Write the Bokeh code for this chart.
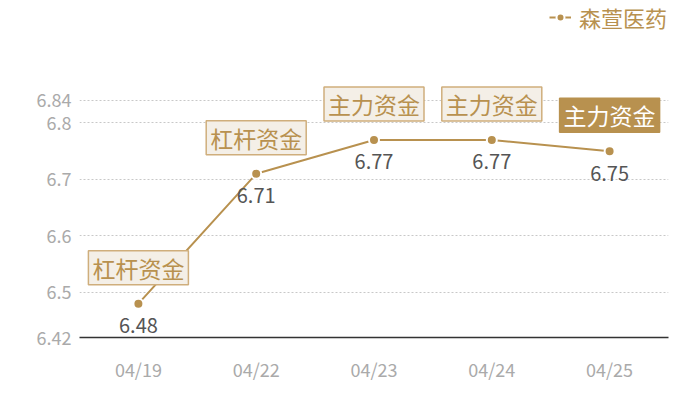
from bokeh.plotting import figure
from bokeh.models import ColumnDataSource, FixedTicker, Legend, LegendItem, Range1d
from bokeh.core.properties import value
from bokeh.embed import file_html
from bokeh.resources import INLINE

dates = ["04/19", "04/22", "04/23", "04/24", "04/25"]
prices = [6.48, 6.71, 6.77, 6.77, 6.75]
tags = ["杠杆资金", "杠杆资金", "主力资金", "主力资金", "主力资金"]
series_name = "森萱医药"
y_ticks = [6.42, 6.5, 6.6, 6.7, 6.8, 6.84]
y_tick_labels = ["6.42", "6.5", "6.6", "6.7", "6.8", "6.84"]

GOLD = "#b8914f"
FONT = "Noto Sans CJK SC"

xs = [i + 0.5 for i in range(len(dates))]
src = ColumnDataSource(dict(x=xs, y=prices, lab=[f"{v:.2f}" for v in prices], tag=tags))

# frame extended upward (invisible) so that tag boxes and legend are not clipped
p = figure(width=684, height=384, output_backend="svg", toolbar_location=None,
           x_range=Range1d(0, len(dates)), y_range=Range1d(y_ticks[0], 7.017),
           min_border_left=79, min_border_right=16, min_border_top=0, min_border_bottom=47)
p.outline_line_color = None
p.background_fill_color = "white"

line = p.line("x", "y", source=src, line_color=GOLD, line_width=2)
pts = p.scatter("x", "y", source=src, size=10, fill_color=GOLD, line_color="white", line_width=2)

# data labels
p.text("x", "y", text="lab", source=src, text_align="center", text_baseline="middle",
       y_offset=22, text_font=value(FONT), text_font_size="20px", text_color="#555555")

# tag boxes
n = len(dates)
src_a = ColumnDataSource(dict(x=xs[:n - 1], y=prices[:n - 1], tag=tags[:n - 1]))
src_b = ColumnDataSource(dict(x=xs[n - 1:], y=prices[n - 1:], tag=tags[n - 1:]))
p.text("x", "y", text="tag", source=src_a, text_align="center", text_baseline="middle",
       y_offset=-36, text_font=value(FONT), text_font_size="23px", text_color=GOLD,
       background_fill_color="#f4efe7", border_line_color="#cfae7c", border_line_width=1.5,
       padding=(4, 0))
p.text("x", "y", text="tag", source=src_b, text_align="center", text_baseline="middle",
       y_offset=-36, text_font=value(FONT), text_font_size="23px", text_color="white",
       background_fill_color=GOLD, border_line_color=GOLD, border_line_width=1.5,
       padding=(4, 0))

# axes
p.xaxis.ticker = FixedTicker(ticks=xs)
p.xaxis.major_label_overrides = {x: d for x, d in zip(xs, dates)}
p.xaxis.major_tick_line_color = None
p.xaxis.minor_tick_line_color = None
p.xaxis.axis_line_color = "#333333"
p.xaxis.axis_line_width = 1.5
p.xaxis.major_label_text_color = "#aaaaaa"
p.xaxis.major_label_text_font = FONT
p.xaxis.major_label_text_font_size = "18px"
p.xaxis.major_label_standoff = 12
p.xgrid.grid_line_color = None

p.yaxis.ticker = FixedTicker(ticks=y_ticks)
p.yaxis.major_label_overrides = {t: l for t, l in zip(y_ticks, y_tick_labels)}
p.yaxis.major_tick_line_color = None
p.yaxis.minor_tick_line_color = None
p.yaxis.axis_line_color = None
p.yaxis.major_label_text_color = "#aaaaaa"
p.yaxis.major_label_text_font = FONT
p.yaxis.major_label_text_font_size = "18px"
p.yaxis.major_label_standoff = 2
p.ygrid.grid_line_color = "#c8c8c8"
p.ygrid.grid_line_dash = "2 2"

legend = Legend(items=[LegendItem(label=series_name, renderers=[line, pts])],
                location=(470, 304), orientation="horizontal",
                label_text_font=FONT, label_text_font_size="22px", label_text_color=GOLD,
                border_line_color=None, background_fill_alpha=0, padding=0, margin=0,
                glyph_width=22, label_standoff=8)
p.add_layout(legend)

open("out.html", "w").write(file_html(p, INLINE))
